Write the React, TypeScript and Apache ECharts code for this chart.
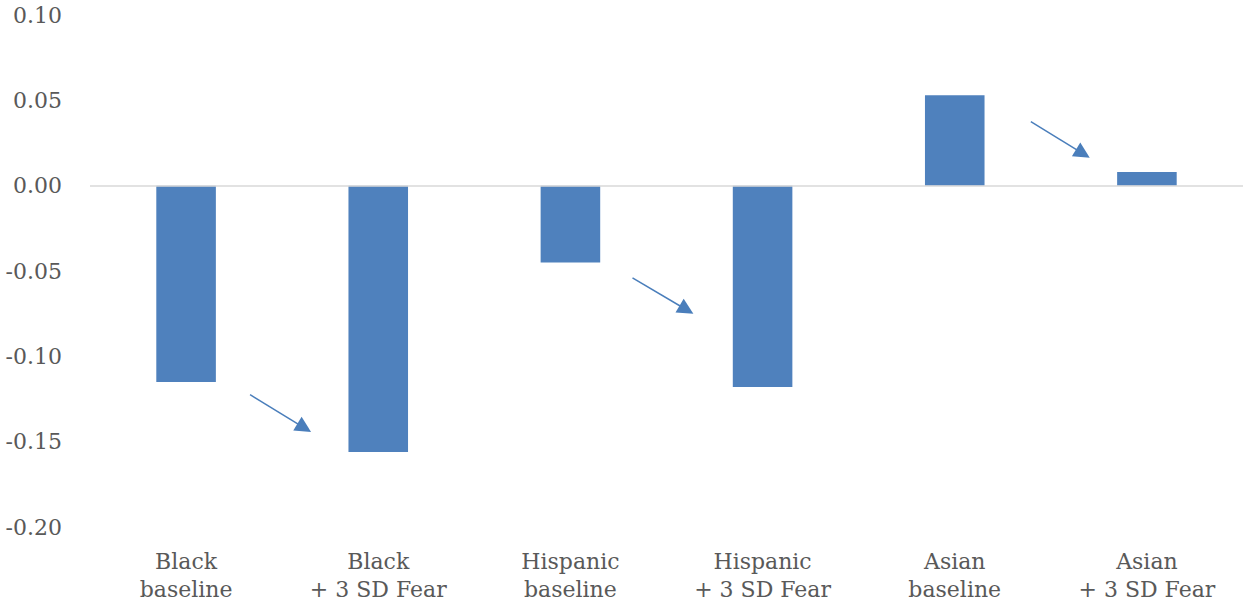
import React, { useEffect, useRef } from "react";
import * as echarts from "echarts";

const categories = [
  "Black\nbaseline",
  "Black\n+ 3 SD Fear",
  "Hispanic\nbaseline",
  "Hispanic\n+ 3 SD Fear",
  "Asian\nbaseline",
  "Asian\n+ 3 SD Fear",
];
const values = [-0.115, -0.156, -0.045, -0.118, 0.053, 0.008];
// arrows: start/end in category-index units (x) and value units (y)
const arrowStartX = [0.333, 2.323, 4.396];
const arrowStartY = [-0.1225, -0.054, 0.0375];
const arrowEndX = [0.615, 2.604, 4.667];
const arrowEndY = [-0.1419, -0.0727, 0.0188];

export default function App() {
  const ref = useRef<HTMLDivElement>(null);
  useEffect(() => {
    if (!ref.current) return;
    const chart = echarts.init(ref.current, undefined, { renderer: "svg" });
    const font = "DejaVu Serif";
    chart.setOption({
      animation: false,
      backgroundColor: "#ffffff",
      grid: { left: 90, right: 2, top: 15, bottom: 81, containLabel: false },
      xAxis: [
        {
          type: "category",
          data: categories,
          axisLine: { show: false, onZero: false },
          axisTick: { show: false },
          axisLabel: {
            color: "#595959",
            fontFamily: font,
            fontSize: 22,
            lineHeight: 28,
            margin: 20,
            interval: 0,
          },
        },
        {
          type: "value",
          min: -0.5,
          max: 5.5,
          show: false,
        },
      ],
      yAxis: {
        type: "value",
        min: -0.2,
        max: 0.1,
        interval: 0.05,
        axisLine: { show: false },
        axisTick: { show: false },
        splitLine: { show: false },
        axisLabel: {
          color: "#595959",
          fontFamily: font,
          fontSize: 22,
          margin: 28,
          formatter: (v: number) => v.toFixed(2),
        },
      },
      series: [
        {
          type: "bar",
          data: values,
          barWidth: "31%",
          itemStyle: { color: "#4f81bd" },
          markLine: {
            silent: true,
            symbol: ["none", "none"],
            label: { show: false },
            lineStyle: { color: "#d9d9d9", type: "solid", width: 1.5 },
            data: [{ yAxis: 0 }],
          },
          z: 3,
        },
        {
          type: "lines",
          coordinateSystem: "cartesian2d",
          xAxisIndex: 1,
          yAxisIndex: 0,
          symbol: ["none", "triangle"],
          symbolSize: [0, 16],
          lineStyle: { color: "#4a7ebb", width: 1.5, opacity: 1 },
          data: arrowStartX.map((x, i) => ({
            coords: [
              [x, arrowStartY[i]],
              [arrowEndX[i], arrowEndY[i]],
            ],
          })),
          z: 4,
        },
      ],
    });
    return () => chart.dispose();
  }, []);
  return (
    <div
      ref={ref}
      style={{ position: "fixed", left: 0, top: 0, width: 1245, height: 608 }}
    />
  );
}
